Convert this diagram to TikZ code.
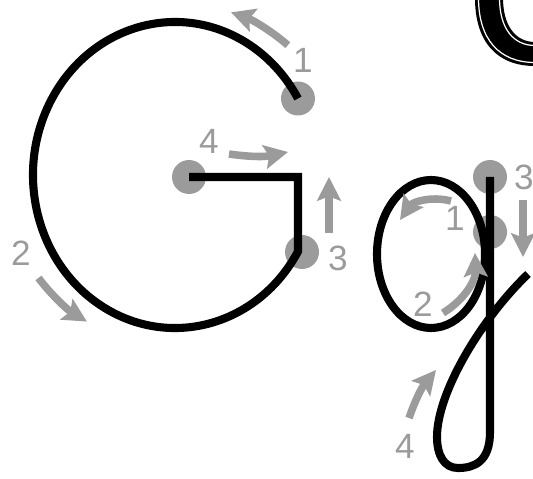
\documentclass[tikz,border=0pt]{standalone}
\usepackage{fontspec}
\setmainfont{Liberation Sans}
\usepackage{xcolor}
\usetikzlibrary{arrows.meta}
\usetikzlibrary{calc, math}
\definecolor{guidegray}{RGB}{155,155,155}

\begin{document}
\begin{tikzpicture}[x=0.02cm, y=0.02cm,
  letter/.style={line width=4.6pt, black},
  guide/.style={guidegray, line width=4.3pt, -{Stealth[length=13.5pt,width=13.5pt,inset=2.5pt]}},
  dot/.style={fill=guidegray},
  num/.style={text=guidegray, inner sep=0pt, font=\fontsize{20}{20}\selectfont}]
\tikzmath{
\rx=142; \ry=153;
}
\useasboundingbox (0,0) rectangle (533,-479);

% capital G
\coordinate (Gc) at (175,-175);
\coordinate (G4) at (189,-177);
\coordinate (G3) at ($(Gc)+(330:{\rx} and {\ry})$);
\fill[dot] ($(Gc)+(30:{\rx} and {\ry})$) circle (17);
\fill[dot] (302,-252) circle (17);
\fill[dot] (G4) circle (17);
\draw[letter] (G4) -- (G4 -| G3) -- (G3) arc (330:30:{\rx} and {\ry});

\node[num] (n1) at (303,-60) {1};
\node[num] (n2) at (21,-253) {2};
\node[num] (n3) at (338,-258) {3};
\node[num] (n4) at (209,-141) {4};
\draw[guide] ($(Gc)+(49:172)$) arc (49:71:172);
\draw[guide] ($(Gc)+(217:171)$) arc (217:239:171);
\draw[guide] (329,-233) -- (329,-177);
\draw[guide] (229,-154) to[bend right=10] (288,-152);

% small g
\coordinate (gc) at (431,-254);
\fill[dot] (490,-177) circle (17);
\fill[dot] (490,-232) circle (17);
\draw[letter] (gc) ellipse (54 and 74);
\draw[letter] (490,-177) -- (490,-432) .. controls (490,-462) and (474,-468) .. (458,-468)
  .. controls (444,-468) and (437,-455) .. (437,-437)
  .. controls (437,-392) and (482,-318) .. (528,-274);

\node[num] (m1) at (455,-218) {1};
\node[num] (m2) at (423,-304) {2};
\node[num] (m3) at (524,-177) {3};
\node[num] (m4) at (405,-446) {4};
\draw[guide] (451,-201) to[bend right=35] (400,-220);
\draw[guide] (443,-313) to[bend right=30] (475,-253);
\draw[guide] (523,-200) -- (523,-257);
\draw[guide] (409,-418) to[bend left=10] (436,-370);

% outlined G, cut by the edge
\begin{scope}
\clip (0,0) rectangle (533,-479);
\fill (475,2) .. controls (475,-42) and (497,-66) .. (535,-66) -- (535,-42)
  .. controls (515,-42) and (503,-25) .. (503,2) -- cycle;
\draw[white, line width=0.7pt] (478.5,2) .. controls (478.5,-39) and (499,-62.5) .. (535,-62.5);
\draw[white, line width=0.7pt] (499.5,2) .. controls (499.5,-28) and (513,-45.5) .. (535,-45.5);
\end{scope}
\end{tikzpicture}
\end{document}
